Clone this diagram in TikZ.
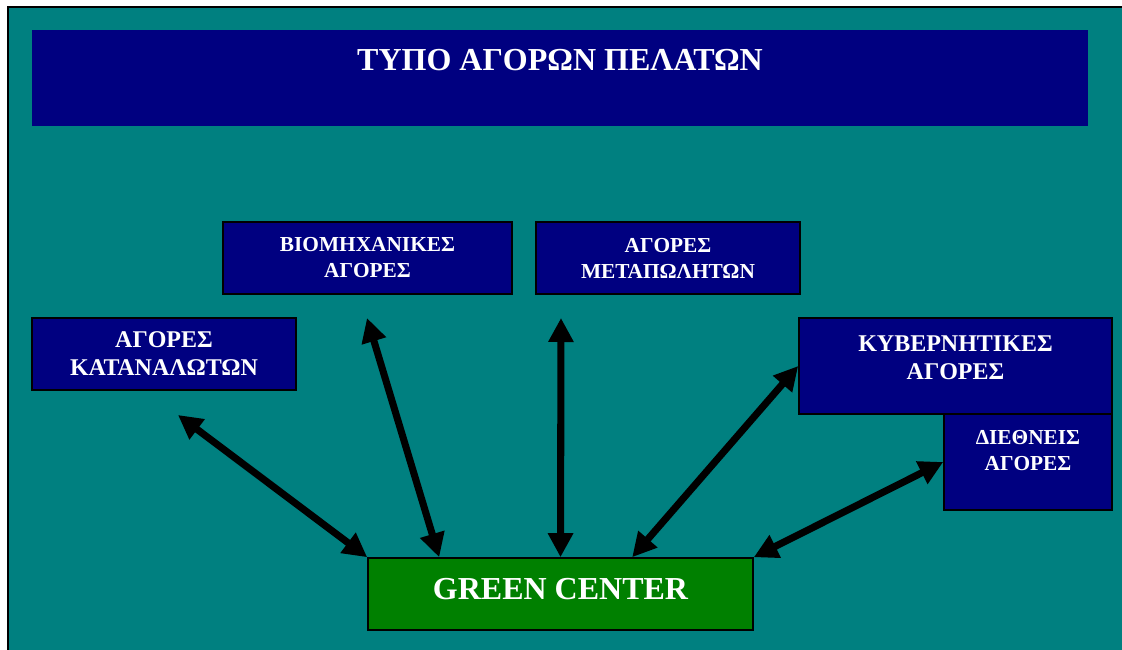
\documentclass[tikz,border=0pt]{standalone}
\usepackage{fontspec}
\setmainfont{Liberation Serif}
\usetikzlibrary{arrows.meta,calc}
\definecolor{pageteal}{RGB}{0,128,128}
\definecolor{boxnavy}{RGB}{0,0,128}
\definecolor{boxgreen}{RGB}{0,128,0}

\begin{document}
\begin{tikzpicture}[x=0.75pt, y=-0.75pt,
    market/.style={draw=black, line width=1.2pt, fill=boxnavy, text=white, align=center, font=\bfseries\fontsize{16}{19.5}\selectfont, minimum height=54pt},
    bigmarket/.style={market, font=\bfseries\fontsize{18}{21}\selectfont},
    arrow/.style={<->, line width=5.3pt, >={Triangle[length=18pt, width=18pt]}}
]
    \useasboundingbox (0,0) rectangle (1122,650);
    \fill[white] (0,0) rectangle (1130,660);
    \fill[pageteal] (8,7) rectangle (1130,660);
    \draw[line width=1.5pt] (8,660) |- (1130,7);

    \node[fill=boxnavy, text=white, font=\bfseries\fontsize{24}{28}\selectfont, minimum width=792pt, minimum height=72pt, text depth=27pt] (title) at (560,78) {ΤΥΠΟ ΑΓΟΡΩΝ ΠΕΛΑΤΩΝ};

    \node[market, minimum width=216.75pt] (biom) at (367.5,258) {ΒΙΟΜΗΧΑΝΙΚΕΣ\\ΑΓΟΡΕΣ};
    \node[market, minimum width=198pt] (metap) at (668,258) {ΑΓΟΡΕΣ\\ΜΕΤΑΠΩΛΗΤΩΝ};
    \node[bigmarket, minimum width=198pt] (katan) at (164,354) {ΑΓΟΡΕΣ\\ΚΑΤΑΝΑΛΩΤΩΝ};
    \node[bigmarket, minimum width=234.75pt, minimum height=72pt, text depth=12pt] (kyvern) at (955.5,366) {ΚΥΒΕΡΝΗΤΙΚΕΣ\\ΑΓΟΡΕΣ};
    \node[market, minimum width=126pt, minimum height=72pt, text depth=17pt] (dieth) at (1028,462) {ΔΙΕΘΝΕΙΣ\\ΑΓΟΡΕΣ};

    \node[draw=black, line width=1.2pt, fill=boxgreen, text=white, font=\bfseries\fontsize{24}{28}\selectfont, minimum width=288.75pt, minimum height=54pt, text depth=7.5pt] (green) at (560.5,594) {GREEN CENTER};

    \coordinate (katan-tip) at (178,415);
    \coordinate (biom-tip) at (367,318);
    \coordinate (metap-tip) at (561,318);

    \draw[arrow] (katan-tip) -- (green.north west);
    \draw[arrow] (biom-tip) -- ($(green.north west)+(72,0)$);
    \draw[arrow] (metap-tip) -- (green.north);
    \draw[arrow] (kyvern.west) -- ($(green.north west)+(265,0)$);
    \draw[arrow] (dieth.west) -- (green.north east);
\end{tikzpicture}
\end{document}
